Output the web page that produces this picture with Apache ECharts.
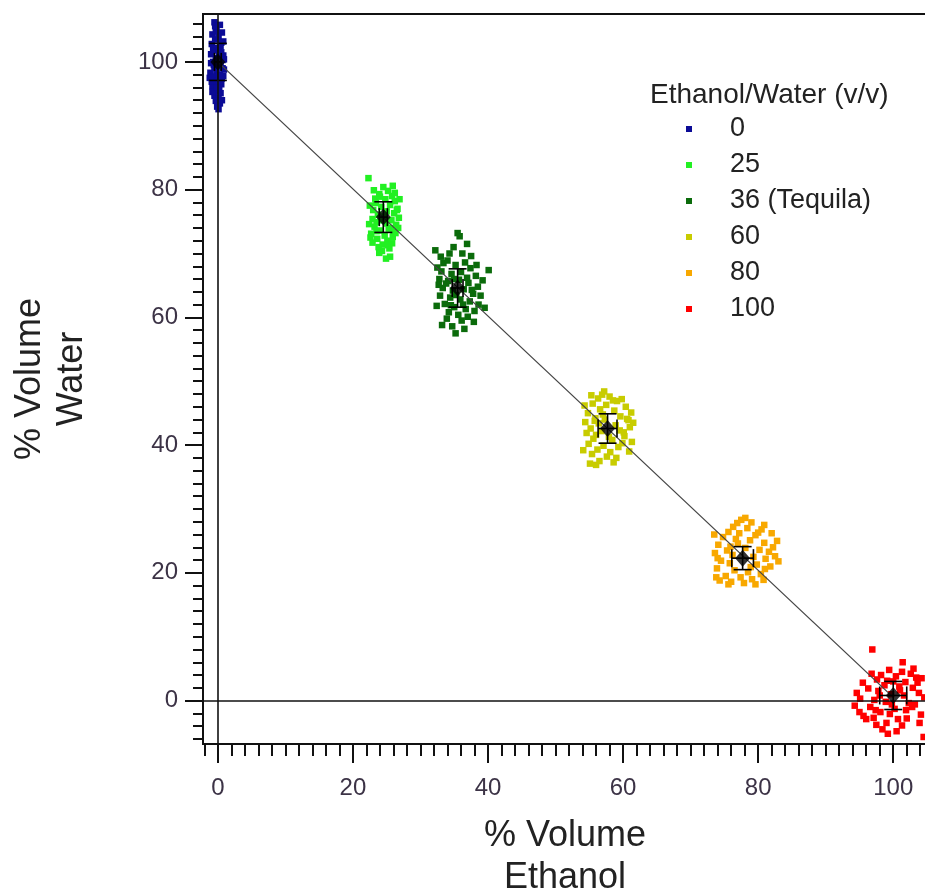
<!DOCTYPE html>
<html>
<head>
<meta charset="utf-8">
<script src="https://cdn.jsdelivr.net/npm/echarts@6/dist/echarts.min.js"></script>
<style>html,body{margin:0;padding:0;background:#fff}#c{width:925px;height:894px}</style>
</head>
<body>
<div id="c"></div>
<script>
// ---- data ----
const categories = ['0', '25', '36 (Tequila)', '60', '80', '100'];
const seriesColors = ['#0b0b96', '#22f022', '#0b6b0b', '#c8cc00', '#f8a800', '#ff0000'];

const pts0 = [[-0.5,106.2],[0.3,105.8],[-0.2,105.1],[0.6,104.6],[-0.8,104.3],[0.1,103.9],[-0.4,103.5],[0.8,103.2],[-0.9,102.8],[0.4,102.5],[-0.1,102.2],[-0.6,101.8],[0.5,101.5],[-1.0,101.2],[0.2,100.9],[-0.3,100.6],[0.7,100.3],[-0.7,100.0],[0.0,99.7],[0.4,99.4],[-0.5,99.1],[0.9,98.8],[-0.2,98.5],[-1.1,98.3],[0.3,98.0],[-0.6,97.7],[0.6,97.4],[0.0,97.1],[-0.4,96.8],[0.5,96.5],[-0.8,96.2],[0.2,95.9],[-0.2,95.5],[0.4,95.1],[-0.5,94.7],[0.1,94.3],[-0.3,93.9],[0.3,93.5],[-0.1,93.0],[0.1,92.6],[-0.7,102.0],[0.7,99.0],[-0.9,96.9],[0.8,101.0],[-0.3,104.8],[0.2,97.9],[-0.6,99.5],[-1.2,97.5],[0.9,100.4],[-0.4,105.6],[0.5,103.0],[-0.8,95.3],[0.6,94.0],[-1.0,99.8],[0.2,101.7],[-0.2,96.0],[0.8,97.8]];
const pts25 = [[22.3,81.8],[24.5,80.4],[25.2,79.8],[23.9,79.3],[25.8,79.0],[24.8,78.5],[26.2,78.2],[23.4,77.9],[25.5,77.6],[24.2,77.3],[26.6,77.0],[23.0,76.8],[25.0,76.6],[26.1,76.3],[23.7,76.1],[24.6,75.8],[26.8,75.6],[22.9,75.4],[25.7,75.2],[23.5,74.9],[24.9,74.7],[26.4,74.5],[23.2,74.2],[25.3,73.9],[24.0,73.6],[26.0,73.4],[22.7,73.1],[24.7,72.8],[25.9,72.6],[23.6,72.3],[25.1,72.0],[22.9,71.7],[24.4,71.4],[23.8,71.0],[25.4,70.8],[24.3,70.4],[25.5,69.5],[26.5,76.8],[23.3,78.6],[25.6,74.0],[24.1,75.2],[26.3,73.2],[22.6,72.5],[25.2,71.3],[23.1,79.9],[25.9,80.6],[26.9,78.5],[22.5,77.5],[24.0,78.9],[26.7,74.0],[22.4,74.6],[23.9,70.1],[24.9,69.2],[25.8,71.6],[26.2,79.5],[23.5,73.5]];
const pts36 = [[35.5,73.2],[35.8,72.7],[32.2,70.5],[34.9,71.0],[36.2,70.0],[37.5,69.6],[40.1,67.4],[33.4,68.5],[37.4,67.7],[34.0,68.9],[35.2,68.2],[36.6,68.6],[33.1,67.2],[34.6,66.8],[36.0,67.1],[38.2,66.5],[32.8,66.0],[34.1,65.7],[35.7,65.9],[37.1,65.4],[38.5,64.8],[33.3,64.6],[34.8,64.2],[36.4,64.4],[37.8,63.7],[32.9,63.4],[34.4,63.1],[35.9,62.8],[37.3,62.5],[38.6,62.0],[33.6,62.1],[35.0,61.6],[36.7,61.3],[34.2,60.8],[35.6,60.4],[37.0,60.1],[33.9,59.8],[36.1,59.5],[33.2,58.8],[35.2,57.5],[38.0,61.0],[32.7,65.1],[36.9,66.2],[34.5,61.9],[38.9,63.4],[35.3,63.5],[33.8,65.3],[36.3,62.0],[37.6,64.3],[34.3,70.0],[36.9,71.5],[33.0,69.5],[39.2,65.8],[32.4,61.8],[37.9,59.3],[34.7,58.6],[36.5,58.2],[39.5,61.5],[32.5,67.8],[38.3,68.2],[35.0,66.0]];
const pts60 = [[57.2,48.4],[58.0,47.6],[56.3,47.3],[59.1,46.9],[55.5,46.5],[57.5,46.3],[60.4,46.0],[56.6,45.6],[58.7,45.4],[61.2,45.1],[54.8,45.0],[57.0,44.8],[59.6,44.5],[55.9,44.2],[60.8,43.9],[54.4,43.6],[56.4,43.4],[58.9,43.1],[61.0,42.8],[55.2,42.6],[59.5,42.3],[54.6,41.9],[56.0,41.6],[60.2,41.4],[55.6,41.0],[58.4,40.8],[61.3,40.5],[54.9,40.2],[57.1,39.9],[59.3,39.7],[56.2,39.3],[58.1,38.9],[55.4,38.6],[57.6,38.2],[56.5,37.5],[59.0,38.0],[55.1,37.1],[57.9,41.3],[60.6,44.1],[56.8,42.2],[58.5,47.0],[55.8,43.8],[56.9,47.9],[59.8,47.2],[54.3,46.2],[61.5,43.5],[54.1,39.2],[60.9,39.0],[58.6,37.3],[56.0,36.9],[59.9,40.3],[55.3,47.8],[60.1,42.0],[57.3,44.0]];
const pts80 = [[77.5,28.3],[79.0,27.9],[76.3,27.2],[78.4,27.0],[80.5,26.8],[75.6,26.4],[77.2,26.2],[79.6,25.9],[82.8,25.0],[74.8,25.6],[76.7,25.3],[78.8,25.1],[80.9,24.7],[74.1,24.4],[75.9,24.1],[78.1,23.9],[80.2,23.6],[81.6,23.3],[73.6,23.1],[76.2,22.8],[79.3,22.5],[81.1,22.2],[74.5,21.9],[75.8,21.5],[79.8,21.3],[81.8,21.0],[73.9,20.7],[76.5,20.4],[78.5,20.1],[80.4,19.8],[75.2,19.5],[77.4,19.3],[79.1,19.0],[76.0,18.6],[77.9,18.4],[74.3,18.8],[81.0,20.6],[77.0,24.6],[78.9,20.9],[75.4,23.5],[80.0,26.3],[82.2,24.0],[78.1,28.6],[76.9,27.8],[80.9,27.5],[82.5,22.6],[83.0,21.8],[73.5,26.0],[74.0,22.3],[73.8,19.3],[75.6,18.2],[79.6,18.2],[80.8,18.9],[82.0,26.2]];
const pts100 = [[96.9,8.0],[99.4,4.8],[101.3,4.5],[102.6,4.2],[98.2,4.0],[100.4,3.8],[103.4,3.6],[97.6,3.3],[99.1,3.1],[101.8,2.9],[98.7,2.4],[100.9,2.2],[102.9,2.0],[96.3,1.9],[97.8,1.5],[103.8,1.2],[99.7,1.0],[101.6,0.8],[104.6,0.5],[95.1,0.3],[97.2,0.1],[98.9,-0.2],[102.3,-0.4],[103.2,-0.6],[94.3,-0.8],[96.6,-1.0],[100.2,-1.3],[101.9,-1.5],[98.1,-1.8],[99.5,-2.1],[104.1,-2.2],[95.6,-2.4],[97.1,-2.7],[100.7,-2.9],[99.0,-3.5],[101.3,-3.9],[98.4,-4.5],[104.5,-5.7],[96.0,-2.9],[102.8,-1.0],[100.0,3.0],[97.4,-1.5],[103.6,2.8],[99.8,-0.6],[101.0,1.6],[98.0,0.8],[95.5,2.8],[94.6,1.2],[103.0,5.0],[104.2,3.5],[102.0,-2.8],[100.5,-4.8],[97.5,-3.8],[96.8,4.2],[103.9,-3.5],[99.2,-5.2],[95.0,-1.8],[101.4,6.0]];
const clusterPoints = [pts0, pts25, pts36, pts60, pts80, pts100];

const meanX = [0, 24.5, 35.5, 57.7, 77.7, 100.0];
const meanY = [100, 75.7, 64.6, 42.6, 22.3, 0.8];
const errX  = [0.5, 0.6, 0.8, 1.4, 1.6, 2.0];
const errY  = [2.9, 2.4, 3.0, 2.3, 1.8, 2.2];
const fitLine = [[0, 100], [100, 0.5]];

const xTickLabels = [0, 20, 40, 60, 80, 100];
const yTickLabels = [0, 20, 40, 60, 80, 100];
const xRange = [-2.2, 105];
const yRange = [-6.8, 107.5];

const xMinor = []; for (let v = -2; v <= 104; v += 2) xMinor.push(v);
const yMinor = []; for (let v = -6; v <= 106; v += 2) yMinor.push(v);

// ---- chart ----
const chart = echarts.init(document.getElementById('c'), null, {renderer: 'canvas'});
const FONT = 'Liberation Sans, Arial, sans-serif';
const LABEL_COLOR = '#3c3346';

const scatterSeries = categories.map((name, i) => ({
  name: name,
  type: 'scatter',
  data: clusterPoints[i],
  symbol: 'rect',
  symbolSize: 6.5,
  itemStyle: {color: seriesColors[i], opacity: 1},
  z: 2,
  silent: true
}));

function renderErr(params, api) {
  const x = api.value(0), y = api.value(1), ex = api.value(2), ey = api.value(3);
  const top = api.coord([x, y + ey]), bot = api.coord([x, y - ey]);
  const lft = api.coord([x - ex, y]), rgt = api.coord([x + ex, y]);
  const c = 9;
  const st = {stroke: '#000', lineWidth: 1.6, fill: null};
  return {type: 'group', children: [
    {type: 'line', shape: {x1: top[0], y1: top[1], x2: bot[0], y2: bot[1]}, style: st},
    {type: 'line', shape: {x1: top[0] - c, y1: top[1], x2: top[0] + c, y2: top[1]}, style: st},
    {type: 'line', shape: {x1: bot[0] - c, y1: bot[1], x2: bot[0] + c, y2: bot[1]}, style: st},
    {type: 'line', shape: {x1: lft[0], y1: lft[1], x2: rgt[0], y2: rgt[1]}, style: st},
    {type: 'line', shape: {x1: lft[0], y1: lft[1] - c, x2: lft[0], y2: lft[1] + c}, style: st},
    {type: 'line', shape: {x1: rgt[0], y1: rgt[1] - c, x2: rgt[0], y2: rgt[1] + c}, style: st}
  ]};
}

const option = {
  animation: false,
  backgroundColor: '#fff',
  textStyle: {fontFamily: FONT},
  title: {
    text: 'Ethanol/Water (v/v)',
    left: 645, top: 76,
    textStyle: {fontSize: 28, fontWeight: 'normal', color: '#222', fontFamily: FONT}
  },
  legend: {
    data: categories,
    orient: 'vertical',
    left: 681, top: 109,
    itemWidth: 6, itemHeight: 6, itemGap: 6,
    icon: 'rect',
    selectedMode: false,
    textStyle: {fontSize: 27, color: '#222', fontFamily: FONT, lineHeight: 30, padding: [0, 0, 0, 33]}
  },
  grid: {
    left: 203, top: 14, right: -2, bottom: 150,
    containLabel: false, outerBoundsMode: 'none',
    show: true, borderColor: '#111', borderWidth: 2, backgroundColor: 'transparent'
  },
  xAxis: [{
    type: 'value', min: xRange[0], max: xRange[1], position: 'bottom',
    splitLine: {show: false},
    axisLine: {show: true, onZero: false, lineStyle: {color: '#111', width: 2}},
    axisTick: {show: true, inside: false, customValues: xTickLabels, length: 19, lineStyle: {color: '#111', width: 2}},
    axisLabel: {show: true, customValues: xTickLabels, fontSize: 24, color: LABEL_COLOR, margin: 32, fontFamily: FONT},
    name: '% Volume\nEthanol', nameLocation: 'middle', nameGap: 71,
    nameTextStyle: {fontSize: 36, color: '#222', lineHeight: 42, fontFamily: FONT}
  }, {
    type: 'value', min: xRange[0], max: xRange[1], position: 'bottom', offset: 0,
    splitLine: {show: false},
    axisLine: {show: false, onZero: false},
    axisTick: {show: true, inside: false, customValues: xMinor, length: 12, lineStyle: {color: '#111', width: 2}},
    axisLabel: {show: false}
  }],
  yAxis: [{
    type: 'value', min: yRange[0], max: yRange[1], position: 'left',
    splitLine: {show: false},
    axisLine: {show: true, onZero: false, lineStyle: {color: '#111', width: 2}},
    axisTick: {show: true, inside: false, customValues: yTickLabels, length: 18, lineStyle: {color: '#111', width: 2}},
    axisLabel: {show: true, customValues: yTickLabels, fontSize: 24, color: LABEL_COLOR, margin: 25, fontFamily: FONT},
    name: '% Volume\nWater', nameLocation: 'middle', nameGap: 110, nameRotate: 90,
    nameTextStyle: {fontSize: 36, color: '#222', lineHeight: 42, fontFamily: FONT}
  }, {
    type: 'value', min: yRange[0], max: yRange[1], position: 'left', offset: 0,
    splitLine: {show: false},
    axisLine: {show: false, onZero: false},
    axisTick: {show: true, inside: false, customValues: yMinor, length: 10, lineStyle: {color: '#111', width: 2}},
    axisLabel: {show: false}
  }],
  series: scatterSeries.concat([
    {
      name: 'fit', type: 'line', data: fitLine, symbol: 'none',
      lineStyle: {color: '#444', width: 1.3}, z: 3, silent: true,
      markLine: {
        silent: true, symbol: 'none', label: {show: false},
        lineStyle: {color: '#111', width: 1.6, type: 'solid'},
        data: [{xAxis: 0}, {yAxis: 0}]
      }
    },
    {
      name: 'err', type: 'custom', renderItem: renderErr, z: 4, silent: true,
      data: meanX.map((x, i) => [x, meanY[i], errX[i], errY[i]])
    },
    {
      name: 'mean', type: 'scatter', symbol: 'diamond', symbolSize: [15, 17],
      itemStyle: {color: '#000'}, z: 5, silent: true,
      data: meanX.map((x, i) => [x, meanY[i]])
    }
  ])
};
chart.setOption(option);
</script>
</body>
</html>
